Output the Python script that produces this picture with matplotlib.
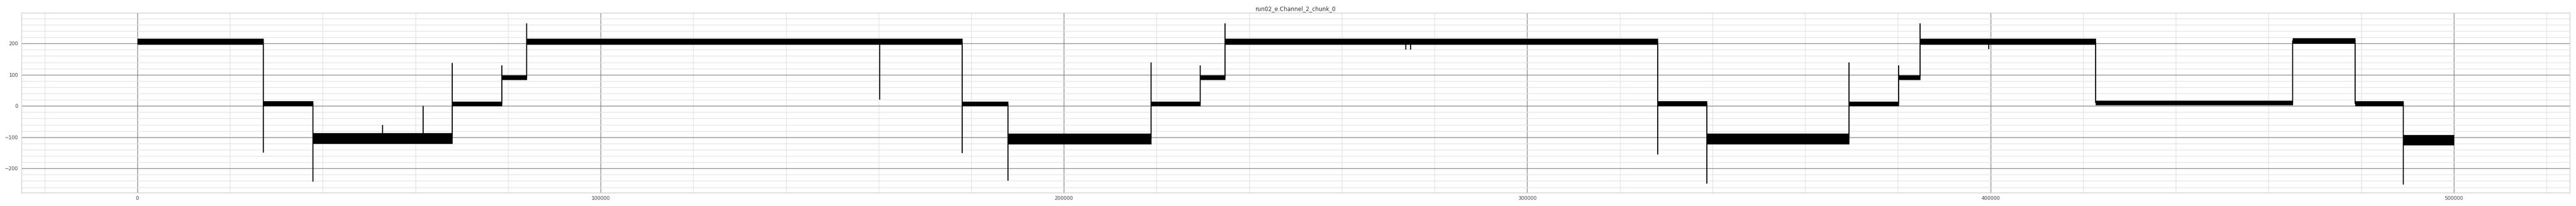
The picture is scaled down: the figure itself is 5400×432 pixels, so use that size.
import matplotlib
matplotlib.use("Agg")
import matplotlib.pyplot as plt
from matplotlib.ticker import MultipleLocator

title = "run02_e.Channel_2_chunk_0"

# Plateaus of the trace (sample index start/end, lower and upper edge of the noise band)
seg_start = [0, 27250, 37930, 68000, 78700, 84000, 178000, 187900, 218800, 229400,
             234750, 328170, 338820, 369500, 380140, 384750, 422700, 465250, 478700, 489100]
seg_end = [27250, 37930, 68000, 78700, 84000, 178000, 187900, 218800, 229400, 234750,
           328170, 338820, 369500, 380140, 384750, 422700, 465250, 478700, 489100, 500000]
seg_lo = [198, 0, -120, 0, 84, 198, 0, -122, 0, 84,
          198, 0, -122, 0, 84, 198, 3, 200, 0, -125]
seg_hi = [215, 15, -86, 14, 98, 215, 14, -88, 14, 98,
          216, 16, -88, 14, 98, 215, 17, 218, 16, -93]

# Transitions between plateaus and the extreme value reached by the switching spike
trans_x = [27250, 37930, 68000, 78700, 84000, 178000, 187900, 218800, 229400, 234750,
           328170, 338820, 369500, 380140, 384750, 422700, 465250, 478700, 489100]
trans_peak = [-149, -242, 138, 130, 265, -150, -240, 140, 130, 265,
              -156, -248, 140, 130, 265, 10, 210, 7, -251]

# Isolated glitches inside plateaus (position, extreme value)
glitch_x = [52930, 61680, 160280, 273760, 274820, 399600]
glitch_y = [-60, 0, 20, 180, 180, 182]

fig = plt.figure(figsize=(54, 4.32), dpi=100)
ax = fig.add_axes([45 / 5400, 1 - 404.3 / 432, (5386.7 - 45) / 5400, (404.3 - 27.3) / 432])

for s, e, lo, hi in zip(seg_start, seg_end, seg_lo, seg_hi):
    ax.fill_between([s, e], [lo, lo], [hi, hi], color="black", lw=0.5, edgecolor="black", zorder=3)

levels_mid = [(lo + hi) / 2 for lo, hi in zip(seg_lo, seg_hi)]
for i, (x, pk) in enumerate(zip(trans_x, trans_peak)):
    a = levels_mid[i]
    b = levels_mid[i + 1]
    ax.vlines(x, min(a, b, pk), max(a, b, pk), color="black", lw=1.6, zorder=3)

for x, y, in zip(glitch_x, glitch_y):
    for s, e, lo, hi in zip(seg_start, seg_end, seg_lo, seg_hi):
        if s <= x < e:
            base = (lo + hi) / 2
            break
    ax.vlines(x, min(base, y), max(base, y), color="black", lw=1.6, zorder=3)

ax.set_xlim(-25000, 525000)
ax.set_ylim(-277.9, 297.7)

ax.xaxis.set_major_locator(MultipleLocator(100000))
ax.xaxis.set_minor_locator(MultipleLocator(20000))
ax.yaxis.set_major_locator(MultipleLocator(100))
ax.yaxis.set_minor_locator(MultipleLocator(20))

ax.grid(which="major", color="#808080", lw=1.0, zorder=1)
ax.grid(which="minor", color="#e3e3e3", lw=1.0, zorder=0)
ax.set_axisbelow(True)

for sp in ax.spines.values():
    sp.set_color("#cccccc")
    sp.set_linewidth(1.0)

ax.tick_params(which="both", length=0, labelsize=7.5, labelcolor="#444444", pad=5)
ax.set_title(title, fontsize=8.5, color="#333333", pad=4)

fig.savefig("out.png", dpi=100)
